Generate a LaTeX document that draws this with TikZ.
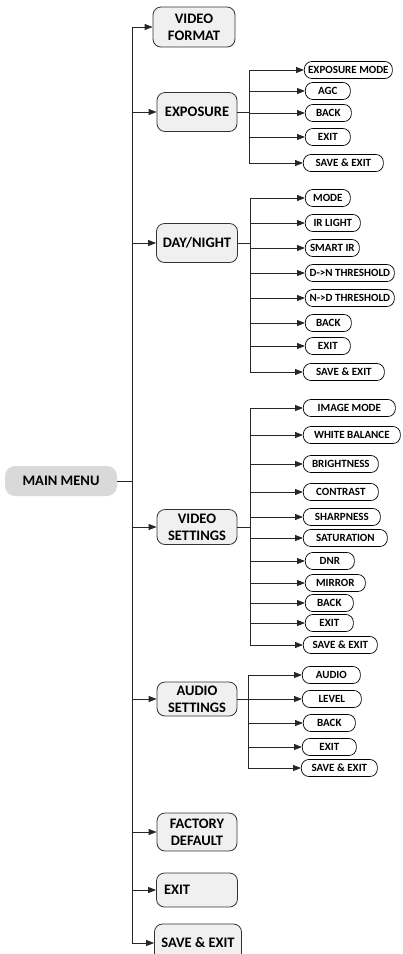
\documentclass[tikz,border=0pt]{standalone}
\usepackage{fontspec}
\setmainfont{Carlito}
\usepackage{tikz}
\usetikzlibrary{arrows.meta,positioning}

\begin{document}
\begin{tikzpicture}[
        x=1pt, y=-1pt,
        menu/.style={draw=black!80, fill=black!6, rounded corners=8pt, line width=0.8pt, align=center,
            font=\fontsize{14.5}{17}\selectfont\bfseries, minimum width=80pt, minimum height=36pt, inner sep=1pt},
        item/.style={draw=black, rounded corners=7.5pt, line width=0.7pt, anchor=west,
            font=\fontsize{11}{12}\selectfont\bfseries, minimum height=17pt, inner sep=1pt, minimum width=#1pt},
        link/.style={draw=black!85, line width=0.8pt},
        arr/.style={link, -{Triangle[length=8pt,width=6pt]}}
    ]
        \useasboundingbox (0,0) rectangle (402,954);

        % main menu and first level
        \node[fill=black!15, rounded corners=10pt, minimum width=112pt, minimum height=30pt,
            font=\fontsize{14.5}{17}\selectfont\bfseries] (main) at (61,481) {MAIN MENU};
        \coordinate (sp) at (132,481);

        \node[menu, minimum width=82pt, minimum height=40pt] (vf) at (194,27) {VIDEO\\FORMAT};
        \node[menu, minimum height=39pt] (exp) at (197,112) {EXPOSURE};
        \node[menu, minimum width=81pt, minimum height=39pt] (dn) at (197,243) {DAY/NIGHT};
        \node[menu, minimum height=35pt] (vs) at (197,527) {VIDEO\\SETTINGS};
        \node[menu, minimum height=34pt] (as) at (197,699) {AUDIO\\SETTINGS};
        \node[menu, minimum height=38pt] (fd) at (197,832) {FACTORY\\DEFAULT};
        \node[menu, minimum width=81pt, minimum height=34pt, text width=66pt, align=left] (ex) at (197,890) {EXIT};
        \node[menu, minimum width=87pt, minimum height=38pt] (sv) at (198,943) {SAVE \& EXIT};

        \draw[link] (main) -- (sp);
        \foreach \c in {vf,exp,dn,vs,as,fd,ex,sv}
            \draw[arr] (sp) |- (\c);

        % exposure
        \coordinate (expsp) at (249,112);
        \node[item=88] (expmode) at (304,70) {EXPOSURE MODE};
        \node[item=45] (agc) at (305,91) {AGC};
        \node[item=46] (expback) at (305,113) {BACK};
        \node[item=45] (expexit) at (305,137) {EXIT};
        \node[item=80] (expsave) at (303,163) {SAVE \& EXIT};
        \draw[link] (exp) -- (expsp);
        \foreach \c in {expmode,agc,expback,expexit,expsave}
            \draw[arr] (expsp) |- (\c);

        % day/night
        \coordinate (dnsp) at (250,243);
        \node[item=45] (dnmode) at (305,198) {MODE};
        \node[item=55] (irlight) at (305,223) {IR LIGHT};
        \node[item=54] (smartir) at (305,248) {SMART IR};
        \node[item=89] (dnthr) at (305,273) {D->N THRESHOLD};
        \node[item=89] (ndthr) at (305,298) {N->D THRESHOLD};
        \node[item=46] (dnback) at (305,323) {BACK};
        \node[item=45] (dnexit) at (305,346) {EXIT};
        \node[item=81] (dnsave) at (303,372) {SAVE \& EXIT};
        \draw[link] (dn) -- (dnsp);
        \foreach \c in {dnmode,irlight,smartir,dnthr,ndthr,dnback,dnexit,dnsave}
            \draw[arr] (dnsp) |- (\c);

        % video settings
        \coordinate (vssp) at (250,527);
        \node[item=92] (imgmode) at (303,408) {IMAGE MODE};
        \node[item=97] (wb) at (303,435) {WHITE BALANCE};
        \node[item=75] (bright) at (303,464) {BRIGHTNESS};
        \node[item=75] (contrast) at (303,492) {CONTRAST};
        \node[item=77] (sharp) at (303,517) {SHARPNESS};
        \node[item=84] (sat) at (303,538) {SATURATION};
        \node[item=49] (dnr) at (305,561) {DNR};
        \node[item=60] (mirror) at (305,583) {MIRROR};
        \node[item=48] (vsback) at (305,603) {BACK};
        \node[item=48] (vsexit) at (305,623) {EXIT};
        \node[item=74] (vssave) at (303,645) {SAVE \& EXIT};
        \draw[link] (vs) -- (vssp);
        \foreach \c in {imgmode,wb,bright,contrast,sharp,sat,dnr,mirror,vsback,vsexit,vssave}
            \draw[arr] (vssp) |- (\c);

        % audio settings
        \coordinate (assp) at (248,699);
        \node[item=58] (audio) at (302,675) {AUDIO};
        \node[item=59] (level) at (302,699) {LEVEL};
        \node[item=52] (auback) at (303,723) {BACK};
        \node[item=54] (auexit) at (302,747) {EXIT};
        \node[item=76] (ausave) at (301,768) {SAVE \& EXIT};
        \draw[link] (as) -- (assp);
        \foreach \c in {audio,level,auback,auexit,ausave}
            \draw[arr] (assp) |- (\c);
    \end{tikzpicture}
\end{document}
